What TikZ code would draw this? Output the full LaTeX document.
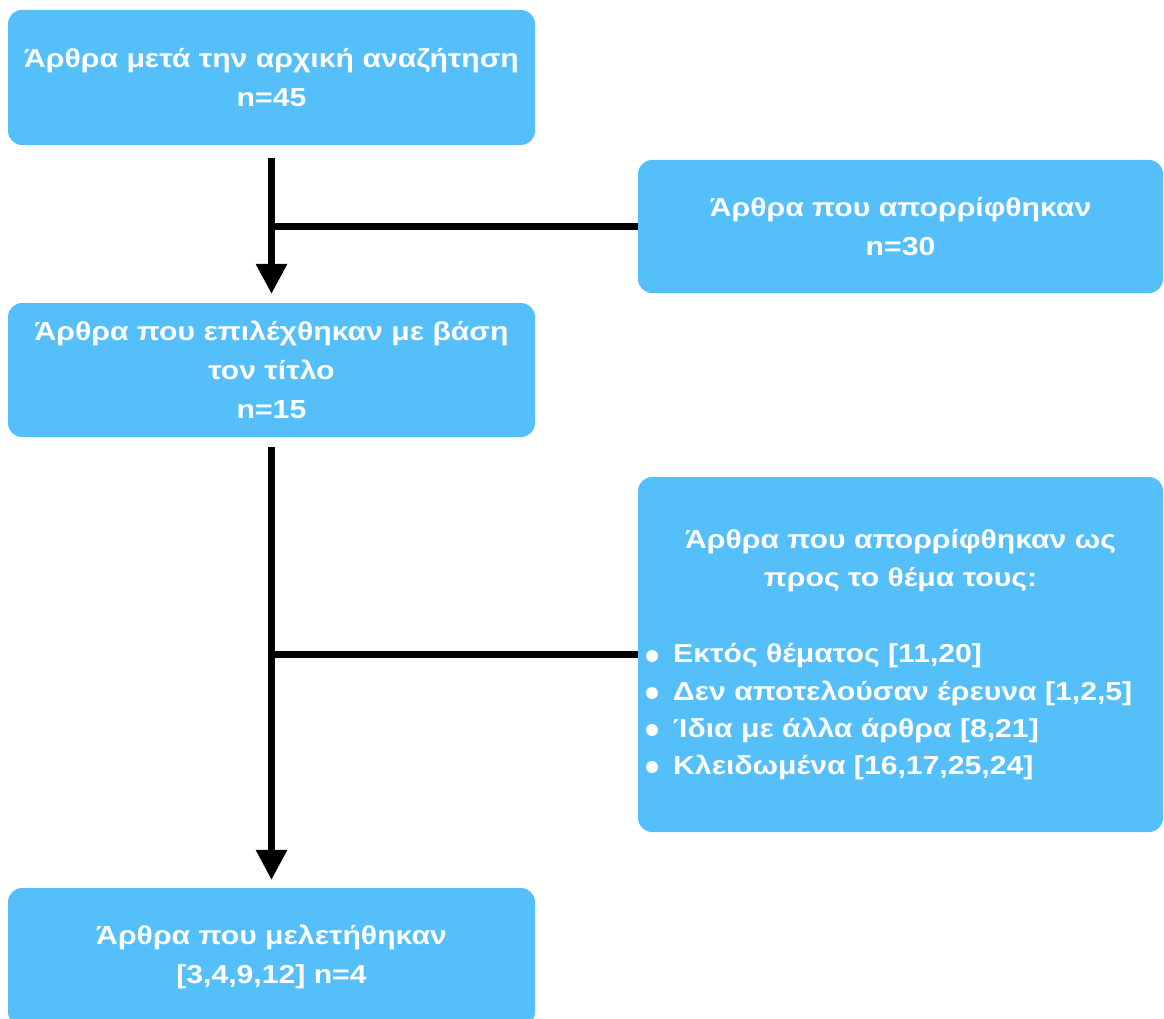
\documentclass[tikz,border=0pt]{standalone}
\usepackage{fontspec}
\setmainfont[FakeStretch=1.16]{Liberation Sans}
\usetikzlibrary{arrows.meta}
\definecolor{boxblue}{RGB}{85,191,250}
\tikzset{
  box/.style={draw=none, fill=boxblue, rounded corners=14pt, text=white, align=center,
    font=\bfseries\fontsize{26}{39}\selectfont, inner sep=0pt},
  txt/.style={text=white, font=\bfseries\fontsize{26}{38}\selectfont, inner sep=0pt},
  conn/.style={line width=6.5pt, draw=black},
  arr/.style={conn, -{Triangle[length=30pt,width=30pt]}},
  bul/.style={fill=white, draw=none}
}
\begin{document}
\begin{tikzpicture}[x=1pt,y=-1pt]
\clip (0,0) rectangle (1164,1019);
\node[box, minimum width=527pt, minimum height=135pt] (b1) at (271.5,77.5)
  {Άρθρα μετά την αρχική αναζήτηση\\n=45};
\node[box, minimum width=525pt, minimum height=133pt] (b2) at (900.5,226.5)
  {Άρθρα που απορρίφθηκαν\\n=30};
\node[box, minimum width=527pt, minimum height=134pt] (b3) at (271.5,370)
  {Άρθρα που επιλέχθηκαν με βάση\\τον τίτλο\\n=15};
\node[box, minimum width=525pt, minimum height=355pt] (b4) at (900.5,654.5) {};
\node[box, minimum width=527pt, minimum height=138pt] (b5) at (271.5,957)
  {Άρθρα που μελετήθηκαν\\{}[3,4,9,12] n=4};
% text inside b4
\node[txt, align=center] (t4) at (900.5,561) {Άρθρα που απορρίφθηκαν ως\\προς το θέμα τους:};
\node[txt, anchor=west] (l1) at (673,656) {Εκτός θέματος [11,20]};
\node[txt, anchor=west] (l2) at (673,693) {Δεν αποτελούσαν έρευνα [1,2,5]};
\node[txt, anchor=west] (l3) at (673,730) {Ίδια με άλλα άρθρα [8,21]};
\node[txt, anchor=west] (l4) at (673,767) {Κλειδωμένα [16,17,25,24]};
\fill[bul] (652,656) circle (6pt);
\fill[bul] (652,693) circle (6pt);
\fill[bul] (652,730) circle (6pt);
\fill[bul] (652,767) circle (6pt);
% connectors
\draw[arr] ([yshift=-13pt]b1.south) -- ([yshift=9pt]b3.north);
\draw[conn] (b2.west) -- (b2.west -| b1.south);
\draw[arr] ([yshift=-10pt]b3.south) -- ([yshift=8pt]b5.north);
\draw[conn] (b4.west) -- (b4.west -| b3.south);
\end{tikzpicture}
\end{document}
